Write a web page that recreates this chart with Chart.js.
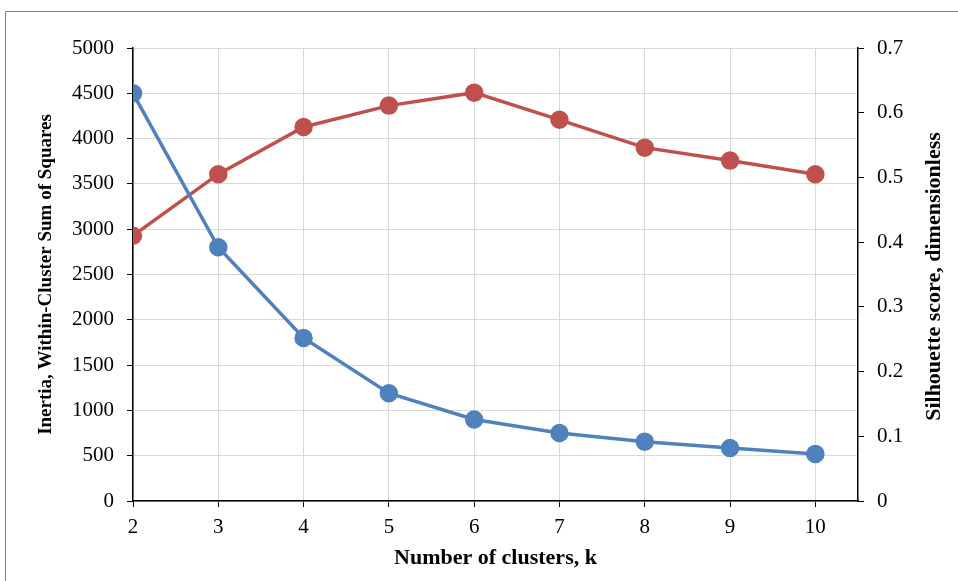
<!DOCTYPE html>
<html>
<head>
<meta charset="utf-8">
<script src="https://cdn.jsdelivr.net/npm/chart.js@4"></script>
<style>
  body { margin: 0; background: #fff; }
  #wrap { width: 958px; height: 581px; }
</style>
</head>
<body>
<div id="wrap"><canvas id="myChart" width="958" height="581"></canvas></div>
<script>
const clusters = [2, 3, 4, 5, 6, 7, 8, 9, 10];
const inertia = [4500, 2800, 1800, 1190, 900, 750, 655, 585, 520];
const silhouette = [0.41, 0.505, 0.578, 0.611, 0.631, 0.589, 0.546, 0.526, 0.505];

const serif = "'Liberation Serif', 'Times New Roman', serif";

// frame round the chart, cropped on the right and bottom like the picture
const framePlugin = {
  id: "frame",
  beforeDraw(chart) {
    const ctx = chart.ctx;
    ctx.save();
    ctx.strokeStyle = "#7f7f7f";
    ctx.lineWidth = 1;
    ctx.beginPath();
    ctx.moveTo(5.5, 600);
    ctx.lineTo(5.5, 11.5);
    ctx.lineTo(1000, 11.5);
    ctx.stroke();
    ctx.restore();
  },
};

// right axis title reads bottom to top, chart.js would rotate it the other way
const rightTitle = {
  id: "rightTitle",
  afterDraw(chart) {
    const ctx = chart.ctx;
    const area = chart.chartArea;
    ctx.save();
    ctx.translate(934, (area.top + area.bottom) / 2 + 2);
    ctx.rotate(-Math.PI / 2);
    ctx.font = "bold 22px " + serif;
    ctx.fillStyle = "#000";
    ctx.textAlign = "center";
    ctx.textBaseline = "middle";
    ctx.fillText("Silhouette score, dimensionless", 0, 0);
    ctx.restore();
  },
};

const chart = new Chart(document.getElementById("myChart"), {
  type: "line",
  data: {
    datasets: [
      {
        label: "Inertia",
        data: clusters.map((k, i) => ({ x: k, y: inertia[i] })),
        borderColor: "#4f81bd",
        backgroundColor: "#4f81bd",
        borderWidth: 3.5,
        pointRadius: 7.5,
        pointHoverRadius: 7.5,
        yAxisID: "y",
      },
      {
        label: "Silhouette",
        data: clusters.map((k, i) => ({ x: k, y: silhouette[i] })),
        borderColor: "#c0504d",
        backgroundColor: "#c0504d",
        borderWidth: 3.5,
        pointRadius: 7.5,
        pointHoverRadius: 7.5,
        yAxisID: "y2",
      },
    ],
  },
  options: {
    responsive: false,
    animation: false,
    layout: { padding: { top: 48, left: 0, right: 0, bottom: 0 } },
    plugins: { legend: { display: false }, tooltip: { enabled: false } },
    scales: {
      x: {
        type: "linear",
        min: 2,
        max: 10.5,
        afterFit: (s) => { s.height = 80; },
        ticks: {
          stepSize: 1,
          includeBounds: false,
          padding: 8,
          color: "#000",
          font: { family: serif, size: 21 },
        },
        grid: { color: "#d9d9d9", tickColor: "#000", tickLength: 6 },
        border: { color: "#000", width: 1.5 },
        title: {
          display: true,
          text: "Number of clusters, k",
          color: "#000",
          font: { family: serif, size: 22, weight: "bold" },
          padding: { top: 0, bottom: 9 },
        },
      },
      y: {
        position: "left",
        min: 0,
        max: 5000,
        afterFit: (s) => { s.width = 133; },
        ticks: {
          stepSize: 500,
          padding: 13,
          color: "#000",
          font: { family: serif, size: 21 },
          callback: (v) => String(v),
        },
        grid: { color: "#d9d9d9", tickColor: "#000", tickLength: 6 },
        border: { color: "#000", width: 1.5 },
        title: {
          display: true,
          text: "Inertia, Within-Cluster Sum of Squares",
          color: "#000",
          font: { family: serif, size: 19, weight: "bold" },
          padding: { top: 35, bottom: 0 },
        },
      },
      y2: {
        position: "right",
        min: 0,
        max: 0.7,
        afterFit: (s) => { s.width = 100; },
        ticks: {
          stepSize: 0.1,
          padding: 13,
          color: "#000",
          font: { family: serif, size: 21 },
          callback: (v) => (v === 0 ? "0" : v.toFixed(1)),
        },
        grid: { drawOnChartArea: false, tickColor: "#000", tickLength: 6 },
        border: { color: "#000", width: 1.5 },
      },
    },
  },
  plugins: [framePlugin, rightTitle],
});
</script>
</body>
</html>
